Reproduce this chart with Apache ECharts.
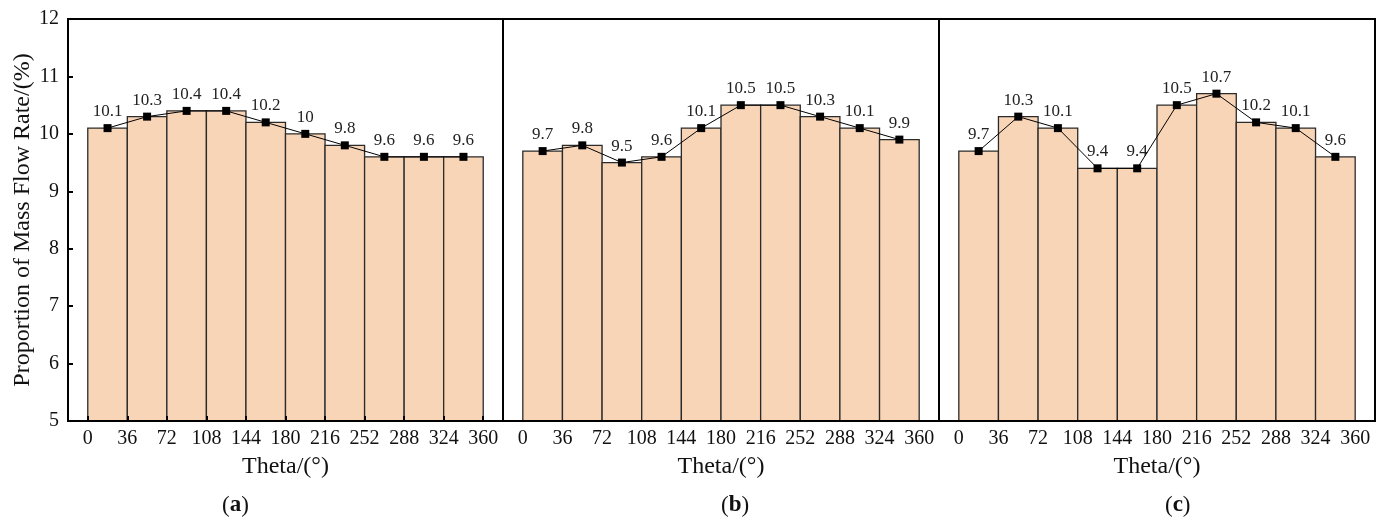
<!DOCTYPE html>
<html>
<head>
<meta charset="utf-8">
<title>Proportion of Mass Flow Rate</title>
<script src="https://cdn.jsdelivr.net/npm/echarts@6/dist/echarts.min.js"></script>
<style>
  html, body { margin: 0; padding: 0; background: #fff; }
  #chart { width: 1384px; height: 521px; }
</style>
</head>
<body>
<div id="chart"></div>
<script>
// Angular bins (degrees) and tick labels shared by all three panels
const binEdges = [0, 36, 72, 108, 144, 180, 216, 252, 288, 324, 360];
const tickValues = [0, 36, 72, 108, 144, 180, 216, 252, 288, 324, 360];

// Mass-flow proportion (%) for each 36° bin
const panelA = [10.1, 10.3, 10.4, 10.4, 10.2, 10.0, 9.8, 9.6, 9.6, 9.6];
const panelB = [9.7, 9.8, 9.5, 9.6, 10.1, 10.5, 10.5, 10.3, 10.1, 9.9];
const panelC = [9.7, 10.3, 10.1, 9.4, 9.4, 10.5, 10.7, 10.2, 10.1, 9.6];

const panelLetters = ['a', 'b', 'c'];
const panels = [panelA, panelB, panelC];

const FONT = '"Liberation Serif", "DejaVu Serif", serif';
const BAR_FILL = '#F9D5B7';
const Y_MIN = 5, Y_MAX = 12;

const gridBoxes = [
  { left: 68, top: 19, width: 435, height: 402 },
  { left: 503, top: 19, width: 436, height: 402 },
  { left: 939, top: 19, width: 436, height: 402 }
];

function binRows(values) {
  return values.map((v, i) => [binEdges[i], binEdges[i + 1], v]);
}
function centerRows(values) {
  return values.map((v, i) => [(binEdges[i] + binEdges[i + 1]) / 2, v]);
}

const grids = gridBoxes.map(b => Object.assign({
  show: true, borderColor: '#000', borderWidth: 2, backgroundColor: 'transparent'
}, b));

const xAxes = panels.map((_, k) => ({
  type: 'value', gridIndex: k, min: -18, max: 378, z: 5,
  name: 'Theta/(°)', nameLocation: 'middle', nameGap: 34,
  nameTextStyle: { fontFamily: FONT, fontSize: 24, color: '#111' },
  axisLine: { show: true, onZero: false, lineStyle: { color: '#000', width: 2 } },
  axisTick: { show: k === 0, inside: true, length: 5, customValues: tickValues,
              lineStyle: { color: '#000', width: 2 } },
  axisLabel: { show: true, customValues: tickValues, margin: 8,
               fontFamily: FONT, fontSize: 20, color: '#111' },
  splitLine: { show: false }
}));

const yAxes = panels.map((_, k) => ({
  type: 'value', gridIndex: k, min: Y_MIN, max: Y_MAX, interval: 1, z: 5,
  name: k === 0 ? 'Proportion of Mass Flow Rate/(%)' : '',
  nameLocation: 'middle', nameGap: 33,
  nameTextStyle: { fontFamily: FONT, fontSize: 24, color: '#111' },
  axisLine: { show: true, onZero: false, lineStyle: { color: '#000', width: 2 } },
  axisTick: { show: k === 0, inside: true, length: 5, lineStyle: { color: '#000', width: 2 } },
  axisLabel: { show: k === 0, margin: 9, fontFamily: FONT, fontSize: 20, color: '#111' },
  splitLine: { show: false }
}));

const series = [];
panels.forEach((vals, k) => {
  series.push({
    type: 'custom', xAxisIndex: k, yAxisIndex: k,
    data: binRows(vals),
    encode: { x: [0, 1], y: 2 },
    z: 2,
    renderItem: (params, api) => {
      const p0 = api.coord([api.value(0), api.value(2)]);
      const p1 = api.coord([api.value(1), Y_MIN]);
      return {
        type: 'rect',
        shape: { x: p0[0], y: p0[1], width: p1[0] - p0[0], height: p1[1] - p0[1] },
        style: { fill: BAR_FILL, stroke: '#2b2b2b', lineWidth: 1.3 }
      };
    }
  });
  series.push({
    type: 'line', xAxisIndex: k, yAxisIndex: k,
    data: centerRows(vals),
    z: 3,
    symbol: 'rect', symbolSize: 8,
    itemStyle: { color: '#000' },
    lineStyle: { color: '#000', width: 1 },
    label: {
      show: true, position: 'top', distance: 4,
      fontFamily: FONT, fontSize: 17, color: '#222',
      formatter: p => String(p.value[1])
    },
    animation: false
  });
});

const chart = echarts.init(document.getElementById('chart'), null, { renderer: 'canvas' });
chart.setOption({
  animation: false,
  backgroundColor: '#fff',
  grid: grids,
  xAxis: xAxes,
  yAxis: yAxes,
  series: series,
  graphic: panelLetters.map((c, k) => ({
    type: 'text',
    left: [222, 721, 1165][k], top: 494,
    style: {
      text: '(' + '{b|' + c + '})',
      font: '23px ' + FONT,
      fill: '#111',
      rich: { b: { fontFamily: FONT, fontSize: 23, fontWeight: 'bold', fill: '#111' } }
    }
  }))
});
</script>
</body>
</html>
